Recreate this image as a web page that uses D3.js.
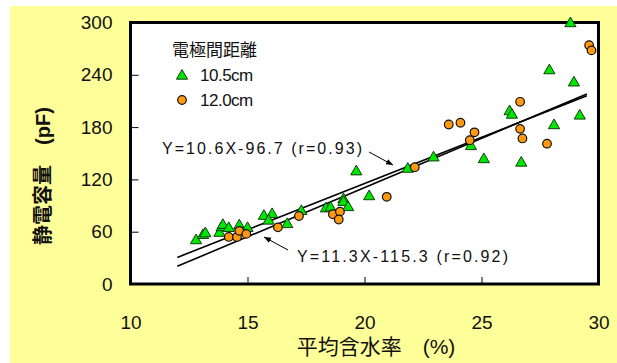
<!DOCTYPE html>
<html>
<head>
<meta charset="utf-8">
<script src="https://cdn.jsdelivr.net/npm/d3@7"></script>
<style>
  html, body { margin: 0; padding: 0; background: #ffffff; }
  svg { display: block; }
  text { font-family: "Liberation Sans", Arial, "Noto Sans CJK JP", sans-serif; fill: #111; }
</style>
</head>
<body>
<svg id="chart" width="617" height="363"></svg>
<script>
// Moisture content (%) vs capacitance (pF), two electrode spacings
const spacing105 = [
  [12.8, 51], [13.1, 57], [13.2, 59], [13.8, 59.5], [13.9, 66], [13.95, 68.5],
  [14.2, 65], [14.65, 68], [15.0, 65], [15.7, 79], [16.05, 81], [15.9, 73.5],
  [16.7, 69.5], [17.3, 84.5], [18.35, 87.5], [18.55, 88.5], [19.1, 98], [19.1, 95],
  [19.3, 89], [19.65, 130], [20.2, 101.5], [21.85, 133], [22.95, 146], [24.55, 159],
  [25.1, 144], [26.2, 199], [26.3, 195], [26.7, 140], [27.9, 246], [28.1, 183],
  [28.8, 300], [28.95, 232], [29.2, 194]
];
const spacing120 = [
  [14.2, 54], [14.55, 54], [14.65, 61], [14.95, 57.5], [16.3, 65], [17.2, 78],
  [18.65, 80], [18.95, 83], [18.9, 74], [20.95, 100], [22.15, 134], [23.6, 183],
  [24.1, 185], [24.7, 174], [24.5, 165], [26.65, 209], [26.65, 178], [26.75, 167],
  [27.8, 161], [29.6, 274], [29.7, 268]
];
// Fitted lines: Y = slope * X + intercept
const fit105 = { slope: 10.6, intercept: -96.7, r: 0.93 };
const fit120 = { slope: 11.3, intercept: -115.3, r: 0.92 };
const fitRange = [12, 29.5];

const xTicks = [10, 15, 20, 25, 30];
const yTicks = [0, 60, 120, 180, 240, 300];
const legendTitle = "電極間距離";
const seriesNames = ["10.5cm", "12.0cm"];
const xTitle = "平均含水率\u3000(%)";
const yTitle = "静電容量\u3000(pF)";

const svg = d3.select("#chart");

// background panel
svg.append("rect").attr("x", 10).attr("y", 6).attr("width", 607).attr("height", 357)
  .attr("fill", "#ffff99");

const x = d3.scaleLinear().domain([10, 30]).range([130.5, 598.5]);
const y = d3.scaleLinear().domain([0, 300]).range([284, 22.5]);

// plot area
svg.append("rect")
  .attr("x", x(10)).attr("y", y(300))
  .attr("width", x(30) - x(10)).attr("height", y(0) - y(300))
  .attr("fill", "#ffffff");

// axes with inward ticks
const yAxis = svg.append("g").attr("transform", `translate(${x(10)},0)`)
  .call(d3.axisLeft(y).tickValues(yTicks).tickSize(-8).tickSizeOuter(0).tickPadding(18));
yAxis.select(".domain").remove();
yAxis.selectAll("text").style("font-size", "19px").attr("fill", "#111");
yAxis.selectAll("line").attr("stroke", "#000");

const xAxis = svg.append("g").attr("transform", `translate(0,${y(0)})`)
  .call(d3.axisBottom(x).tickValues(xTicks).tickSize(-7).tickSizeOuter(0).tickPadding(32));
xAxis.select(".domain").remove();
xAxis.selectAll("text").style("font-size", "19px").attr("fill", "#111");
xAxis.selectAll("line").attr("stroke", "#000");

// frame
svg.append("rect")
  .attr("x", x(10)).attr("y", y(300))
  .attr("width", x(30) - x(10)).attr("height", y(0) - y(300))
  .attr("fill", "none").attr("stroke", "#000").attr("stroke-width", 3);

// regression lines
const line = d3.line().x(d => x(d[0])).y(d => y(d[1]));
[fit105, fit120].forEach(f => {
  const pts = fitRange.map(v => [v, f.slope * v + f.intercept]);
  svg.append("path").attr("d", line(pts))
    .attr("fill", "none").attr("stroke", "#000").attr("stroke-width", 1.6);
});

// markers
const triPath = "M0,-5.5L5.6,4.2L-5.6,4.2Z";
svg.append("g").selectAll("path").data(spacing105).join("path")
  .attr("d", triPath)
  .attr("transform", d => `translate(${x(d[0])},${y(d[1])})`)
  .attr("fill", "#00e600").attr("stroke", "#0a2a0a").attr("stroke-width", 0.9);

svg.append("g").selectAll("circle").data(spacing120).join("circle")
  .attr("cx", d => x(d[0])).attr("cy", d => y(d[1])).attr("r", 4.3)
  .attr("fill", "#ff9a10").attr("stroke", "#111").attr("stroke-width", 1.2);

// legend
svg.append("text").attr("x", 172).attr("y", 56).style("font-size", "17px").text(legendTitle);
svg.append("path").attr("d", triPath).attr("transform", "translate(182,75)")
  .attr("fill", "#00e600").attr("stroke", "#0a2a0a").attr("stroke-width", 0.9);
svg.append("circle").attr("cx", 182).attr("cy", 100).attr("r", 4.3)
  .attr("fill", "#ff9a10").attr("stroke", "#111").attr("stroke-width", 1.2);
svg.append("text").attr("x", 200).attr("y", 81).style("font-size", "17px")
  .style("letter-spacing", "-0.5px").text(seriesNames[0]);
svg.append("text").attr("x", 200).attr("y", 106).style("font-size", "17px")
  .style("letter-spacing", "-0.5px").text(seriesNames[1]);

// equation labels
const eqText = f => `Y=${f.slope}X${f.intercept} (r=${f.r})`;
svg.append("text").attr("x", 162).attr("y", 154).style("font-size", "16px")
  .attr("textLength", 200).attr("lengthAdjust", "spacing").text(eqText(fit105));
svg.append("text").attr("x", 297).attr("y", 262).style("font-size", "16px")
  .attr("textLength", 211).attr("lengthAdjust", "spacing").text(eqText(fit120));

// leader arrows
svg.append("defs").append("marker")
  .attr("id", "arrowhead").attr("viewBox", "0 0 10 10")
  .attr("refX", 10).attr("refY", 5)
  .attr("markerWidth", 7).attr("markerHeight", 7)
  .attr("orient", "auto")
  .append("path").attr("d", "M0,1L10,5L0,9Z").attr("fill", "#000");
svg.append("line").attr("x1", 369).attr("y1", 152).attr("x2", 393).attr("y2", 165)
  .attr("stroke", "#000").attr("stroke-width", 1).attr("marker-end", "url(#arrowhead)");
svg.append("line").attr("x1", 288).attr("y1", 250).attr("x2", 264).attr("y2", 237)
  .attr("stroke", "#000").attr("stroke-width", 1).attr("marker-end", "url(#arrowhead)");

// axis titles
svg.append("text").attr("x", 376).attr("y", 354).attr("text-anchor", "middle")
  .style("font-size", "21px").text(xTitle);
svg.append("text").attr("transform", "translate(50,176) rotate(-90)")
  .attr("text-anchor", "middle").style("font-size", "20px").style("font-weight", "bold")
  .text(yTitle);
</script>
</body>
</html>
